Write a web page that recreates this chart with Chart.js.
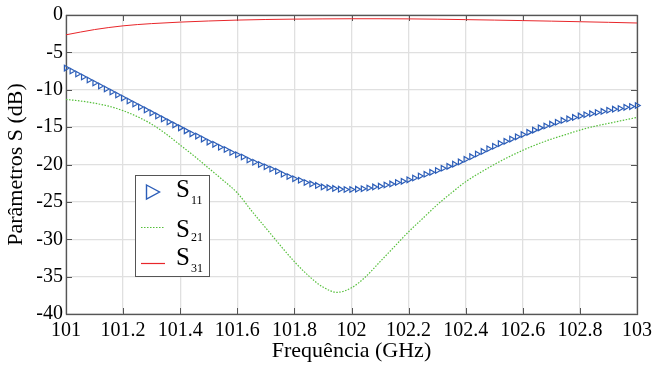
<!DOCTYPE html>
<html>
<head>
<meta charset="utf-8">
<script src="https://cdn.jsdelivr.net/npm/chart.js@4.4.1/dist/chart.umd.min.js"></script>
<style>
    html, body { margin: 0; padding: 0; background: #fff; }
    #wrap { width: 657px; height: 367px; }
</style>
</head>
<body>
<div id="wrap"><canvas id="chart" width="657" height="367"></canvas></div>
<script>
// frequency grids (GHz)
const freqS11 = [
    101.00, 101.02, 101.04, 101.06, 101.08, 101.10, 101.12, 101.14, 101.16, 101.18,
    101.20, 101.22, 101.24, 101.26, 101.28, 101.30, 101.32, 101.34, 101.36, 101.38,
    101.40, 101.42, 101.44, 101.46, 101.48, 101.50, 101.52, 101.54, 101.56, 101.58,
    101.60, 101.62, 101.64, 101.66, 101.68, 101.70, 101.72, 101.74, 101.76, 101.78,
    101.80, 101.82, 101.84, 101.86, 101.88, 101.90, 101.92, 101.94, 101.96, 101.98,
    102.00, 102.02, 102.04, 102.06, 102.08, 102.10, 102.12, 102.14, 102.16, 102.18,
    102.20, 102.22, 102.24, 102.26, 102.28, 102.30, 102.32, 102.34, 102.36, 102.38,
    102.40, 102.42, 102.44, 102.46, 102.48, 102.50, 102.52, 102.54, 102.56, 102.58,
    102.60, 102.62, 102.64, 102.66, 102.68, 102.70, 102.72, 102.74, 102.76, 102.78,
    102.80, 102.82, 102.84, 102.86, 102.88, 102.90, 102.92, 102.94, 102.96, 102.98,
    103.00
];
const s11 = [
    -7.1, -7.5, -7.9, -8.3, -8.7, -9.1, -9.5, -9.9, -10.3, -10.7,
    -11.1, -11.5, -11.9, -12.3, -12.7, -13.1, -13.5, -13.9, -14.3, -14.7,
    -15.1, -15.5, -15.9, -16.2, -16.6, -17.0, -17.3, -17.7, -18.0, -18.4,
    -18.7, -19.0, -19.4, -19.7, -20.0, -20.3, -20.6, -20.9, -21.3, -21.6,
    -21.9, -22.1, -22.4, -22.6, -22.8, -23.0, -23.1, -23.2, -23.3, -23.35,
    -23.35, -23.3, -23.25, -23.15, -23.0, -22.9, -22.75, -22.6, -22.4, -22.25,
    -22.05, -21.8, -21.55, -21.3, -21.05, -20.8, -20.5, -20.25, -19.95, -19.65,
    -19.3, -18.95, -18.6, -18.25, -17.9, -17.55, -17.2, -16.9, -16.6, -16.3,
    -16.0, -15.7, -15.4, -15.1, -14.85, -14.6, -14.35, -14.1, -13.9, -13.7,
    -13.5, -13.35, -13.2, -13.05, -12.9, -12.75, -12.6, -12.5, -12.35, -12.25,
    -12.1
];

const freqS21 = [
    101.00, 101.05, 101.10, 101.15, 101.20, 101.25, 101.30, 101.35, 101.40, 101.45,
    101.50, 101.55, 101.60, 101.65, 101.70, 101.75, 101.80, 101.85, 101.90, 101.95,
    102.00, 102.05, 102.10, 102.15, 102.20, 102.25, 102.30, 102.35, 102.40, 102.45,
    102.50, 102.55, 102.60, 102.65, 102.70, 102.75, 102.80, 102.85, 102.90, 102.95,
    103.00
];
const s21 = [
    -11.3, -11.5, -11.8, -12.2, -12.8, -13.6, -14.6, -15.9, -17.4, -18.9,
    -20.5, -22.1, -23.8, -26.2, -28.5, -30.8, -33.0, -34.9, -36.4, -37.1,
    -36.5, -35.0, -33.0, -31.0, -29.0, -27.2, -25.4, -23.8, -22.3, -21.1,
    -20.0, -19.0, -18.1, -17.3, -16.6, -16.0, -15.4, -14.9, -14.5, -14.1,
    -13.7
];

const freqS31 = [
    101.0, 101.1, 101.2, 101.3, 101.4, 101.5, 101.6, 101.7, 101.8, 101.9,
    102.0, 102.1, 102.2, 102.3, 102.4, 102.5, 102.6, 102.7, 102.8, 102.9,
    103.0
];
const s31 = [
    -2.65, -1.95, -1.45, -1.15, -0.95, -0.8, -0.68, -0.6, -0.55, -0.52,
    -0.5, -0.5, -0.52, -0.56, -0.62, -0.68, -0.75, -0.82, -0.9, -0.98,
    -1.07
];

const xTickValues = [101, 101.2, 101.4, 101.6, 101.8, 102, 102.2, 102.4, 102.6, 102.8, 103];
const xTickLabels = ['101', '101.2', '101.4', '101.6', '101.8', '102', '102.2', '102.4', '102.6', '102.8', '103'];
const yTickValues = [0, -5, -10, -15, -20, -25, -30, -35, -40];

const BLUE = '#2b5db8';
const GREEN = '#55bf3a';
const RED = '#e8262a';
const FONT = '"Liberation Serif", "Times New Roman", serif';

const toPoints = (xs, ys) => xs.map((x, i) => ({ x: x, y: ys[i] }));

// box + inward ticks, MATLAB style
const framePlugin = {
    id: 'frame',
    beforeDatasetsDraw(chart) {
        const { ctx, chartArea: a, scales } = chart;
        ctx.save();
        ctx.strokeStyle = '#555';
        ctx.lineWidth = 1;
        ctx.beginPath();
        xTickValues.forEach(v => {
            const px = Math.round(scales.x.getPixelForValue(v)) + 0.5;
            ctx.moveTo(px, a.bottom); ctx.lineTo(px, a.bottom - 6);
            ctx.moveTo(px, a.top); ctx.lineTo(px, a.top + 6);
        });
        yTickValues.forEach(v => {
            const py = Math.round(scales.y.getPixelForValue(v)) + 0.5;
            ctx.moveTo(a.left, py); ctx.lineTo(a.left + 6, py);
            ctx.moveTo(a.right, py); ctx.lineTo(a.right - 6, py);
        });
        ctx.stroke();
        ctx.lineWidth = 1.3;
        ctx.strokeRect(Math.round(a.left) + 0.5, Math.round(a.top) + 0.5,
            Math.round(a.right - a.left), Math.round(a.bottom - a.top));
        ctx.restore();
    }
};

const legendPlugin = {
    id: 'boxLegend',
    afterDraw(chart) {
        const ctx = chart.ctx;
        ctx.save();
        ctx.fillStyle = '#fff';
        ctx.fillRect(135, 175, 74, 102);
        ctx.strokeStyle = '#555';
        ctx.lineWidth = 1;
        ctx.strokeRect(135.5, 175.5, 74, 101);

        // S11 marker
        ctx.strokeStyle = BLUE;
        ctx.lineWidth = 1.4;
        ctx.beginPath();
        ctx.moveTo(146.5, 185);
        ctx.lineTo(159.5, 192);
        ctx.lineTo(146.5, 199);
        ctx.closePath();
        ctx.stroke();

        // S21 line
        ctx.strokeStyle = GREEN;
        ctx.lineWidth = 1.2;
        ctx.setLineDash([1.5, 1.5]);
        ctx.beginPath();
        ctx.moveTo(141, 227.5); ctx.lineTo(165, 227.5);
        ctx.stroke();
        ctx.setLineDash([]);

        // S31 line
        ctx.strokeStyle = RED;
        ctx.beginPath();
        ctx.moveTo(141, 263.5); ctx.lineTo(165, 263.5);
        ctx.stroke();

        ctx.fillStyle = '#000';
        ctx.textBaseline = 'alphabetic';
        const rows = [['11', 196.5, 204], ['21', 237, 240.5], ['31', 265, 271.5]];
        rows.forEach(r => {
            ctx.font = '25px ' + FONT;
            ctx.fillText('S', 176, r[1]);
            ctx.font = '12px ' + FONT;
            ctx.fillText(r[0], 191, r[2]);
        });
        ctx.restore();
    }
};

new Chart(document.getElementById('chart'), {
    type: 'line',
    data: {
        datasets: [
            {
                label: 'S11',
                data: toPoints(freqS11, s11),
                showLine: false,
                pointStyle: 'triangle',
                rotation: 90,
                pointRadius: 3.2,
                pointBorderWidth: 1.2,
                pointBorderColor: BLUE,
                pointBackgroundColor: 'rgba(255,255,255,0)',
                borderColor: BLUE,
                clip: 6
            },
            {
                label: 'S21',
                data: toPoints(freqS21, s21),
                borderColor: GREEN,
                borderWidth: 1.2,
                borderDash: [1.5, 1.5],
                pointRadius: 0,
                cubicInterpolationMode: 'monotone'
            },
            {
                label: 'S31',
                data: toPoints(freqS31, s31),
                borderColor: RED,
                borderWidth: 1,
                pointRadius: 0,
                cubicInterpolationMode: 'monotone'
            }
        ]
    },
    options: {
        responsive: false,
        animation: false,
        devicePixelRatio: 1,
        layout: { padding: { top: 14, right: 16, left: 0, bottom: 0 } },
        plugins: {
            legend: { display: false },
            tooltip: { enabled: false }
        },
        scales: {
            x: {
                type: 'linear',
                min: 101,
                max: 103,
                afterBuildTicks: scale => { scale.ticks = xTickValues.map(v => ({ value: v })); },
                afterFit: scale => { scale.height = 53; },
                ticks: {
                    autoSkip: false,
                    maxRotation: 0,
                    padding: 5,
                    color: '#000',
                    font: { family: FONT, size: 20 },
                    callback: (v, i) => xTickLabels[i]
                },
                grid: { color: '#e0e0e0', lineWidth: 1.3, drawTicks: false },
                border: { display: false },
                title: {
                    display: true,
                    text: 'Frequência (GHz)',
                    color: '#000',
                    font: { family: FONT, size: 22 },
                    padding: { top: 0, bottom: 3 }
                }
            },
            y: {
                min: -40,
                max: 0,
                afterBuildTicks: scale => { scale.ticks = yTickValues.map(v => ({ value: v })); },
                afterFit: scale => { scale.width = 66; },
                ticks: {
                    padding: 3,
                    color: '#000',
                    font: { family: FONT, size: 20 }
                },
                grid: { color: '#e0e0e0', lineWidth: 1.3, drawTicks: false },
                border: { display: false },
                title: {
                    display: true,
                    text: 'Parâmetros S (dB)',
                    color: '#000',
                    font: { family: FONT, size: 22 },
                    padding: { top: 3, bottom: 0 }
                }
            }
        }
    },
    plugins: [framePlugin, legendPlugin]
});
</script>
</body>
</html>
